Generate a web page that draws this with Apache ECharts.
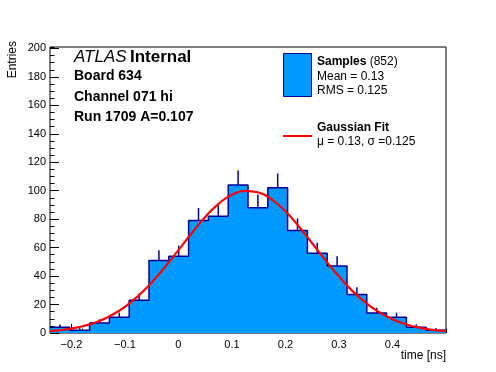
<!DOCTYPE html>
<html><head><meta charset="utf-8">
<script src="https://cdn.jsdelivr.net/npm/echarts@6/dist/echarts.min.js"></script>
<style>html,body{margin:0;padding:0;background:#fff}#c{width:496px;height:372px}</style>
</head><body><div id="c"></div>
<script>
// ---- data ----
const xMin = -0.24, xMax = 0.5;
const binWidth = 0.037;
const counts = [4, 2, 7, 11, 23, 51, 54, 79, 82, 104, 88, 102, 72, 56, 47, 27, 14, 11, 4, 2];
const fitX = [-0.24,-0.225,-0.2,-0.175,-0.15,-0.125,-0.1,-0.075,-0.05,-0.025,0,0.025,0.05,0.075,0.1,0.125,0.15,0.175,0.2,0.225,0.25,0.275,0.3,0.325,0.35,0.375,0.4,0.425,0.45,0.475,0.5];
const fitY = [1.3,1.8,3.1,5.1,8.1,12.5,18.4,26.1,35.5,46.4,58.2,70.3,81.5,90.8,97.2,99.9,98.7,93.7,85.5,74.9,63.1,51.0,39.7,29.6,21.3,14.7,9.7,6.2,3.8,2.2,1.3];
const yMax = 201;
const headerLines = ['Board 634', 'Channel 071 hi', 'Run 1709 A=0.107'];
const legendSamples = ['Mean = 0.13', 'RMS = 0.125'];
const legendFit = '\u03bc = 0.13, \u03c3 =0.125';

// ---- derived ----
const stepPts = [];
counts.forEach((c, i) => {
  stepPts.push([xMin + i * binWidth, c]);
  stepPts.push([xMin + (i + 1) * binWidth, c]);
});
const errData = counts.map((c, i) => [xMin + (i + 0.5) * binWidth, c, Math.sqrt(c)]);
const fitData = fitX.map((x, i) => [x, fitY[i]]);

const FONT = '"Liberation Sans", Arial, Helvetica, sans-serif';
const NAVY = '#000099', FILL = '#0099ff';

const chart = echarts.init(document.getElementById('c'), null, {renderer: 'canvas'});
const axCommon = {
  axisLine: {show: false, onZero: false}, splitLine: {show: false},
};
chart.setOption({
  animation: false,
  backgroundColor: '#fff',
  grid: {left: 50, right: 50, top: 47, bottom: 39, show: true, borderColor: '#000', borderWidth: 1, backgroundColor: 'transparent'},
  xAxis: [
    Object.assign({type: 'value', min: xMin, max: xMax, splitNumber: 7, position: 'bottom',
      axisTick: {inside: true, length: 9, lineStyle: {color: '#000', width: 1}},
      axisLabel: {showMinLabel: false, showMaxLabel: false, color: '#000', fontSize: 11, fontFamily: FONT, margin: 6,
        formatter: v => (v < 0 ? '\u2212' + Math.abs(v) : String(v))}}, axCommon),
    Object.assign({type: 'value', min: xMin, max: xMax, interval: 0.02, position: 'bottom',
      axisTick: {inside: true, length: 4.5, lineStyle: {color: '#000', width: 1}},
      axisLabel: {show: false}}, axCommon)
  ],
  yAxis: [
    Object.assign({type: 'value', min: 0, max: yMax, interval: 20, position: 'left',
      axisTick: {inside: true, length: 9, lineStyle: {color: '#000', width: 1}},
      axisLabel: {showMaxLabel: false, color: '#000', fontSize: 11, fontFamily: FONT, margin: 4}}, axCommon),
    Object.assign({type: 'value', min: 0, max: yMax, interval: 5, position: 'left',
      axisTick: {inside: true, length: 4.5, lineStyle: {color: '#000', width: 1}},
      axisLabel: {show: false}}, axCommon)
  ],
  series: [
    {
      type: 'custom', name: 'err', xAxisIndex: 0, yAxisIndex: 0, z: 1, silent: true,
      data: errData,
      renderItem: (params, api) => {
        const x = api.value(0), y = api.value(1), e = api.value(2);
        const p1 = api.coord([x, y - e]), p2 = api.coord([x, y + e]);
        return {type: 'line', shape: {x1: p1[0], y1: p1[1], x2: p2[0], y2: p2[1]},
          style: {stroke: NAVY, lineWidth: 1.5}};
      }
    },
    {
      type: 'line', name: 'Samples', xAxisIndex: 0, yAxisIndex: 0, z: 2, silent: true,
      data: stepPts, symbol: 'none',
      lineStyle: {color: NAVY, width: 1.5},
      areaStyle: {color: FILL, opacity: 1}
    },
    {
      type: 'line', name: 'Gaussian Fit', xAxisIndex: 0, yAxisIndex: 0, z: 3, silent: true,
      data: fitData, symbol: 'none', smooth: true,
      lineStyle: {color: '#ff0000', width: 2.2}
    }
  ],
  graphic: [
    {type: 'text', x: 13, y: 41, rotation: Math.PI / 2,
      style: {text: 'Entries', font: '12px ' + FONT, fill: '#000', textAlign: 'right', textVerticalAlign: 'middle'}},
    {type: 'text', x: 446, y: 356,
      style: {text: 'time [ns]', font: '12px ' + FONT, fill: '#000', textAlign: 'right', textVerticalAlign: 'middle'}},
    {type: 'text', x: 74, y: 57,
      style: {text: '{a|ATLAS} {b|Internal}', textVerticalAlign: 'middle',
        rich: {a: {fontStyle: 'italic', fontSize: 17, fontFamily: FONT, fill: '#000'},
               b: {fontWeight: 'bold', fontSize: 17, fontFamily: FONT, fill: '#000'}}}},
    ...headerLines.map((t, i) => ({type: 'text', x: 74, y: 76.5 + i * 20.5,
      style: {text: t, font: 'bold 14px ' + FONT, fill: '#000', textVerticalAlign: 'middle'}})),
    {type: 'rect', shape: {x: 283.5, y: 53.5, width: 28, height: 43},
      style: {fill: FILL, stroke: NAVY, lineWidth: 1}},
    {type: 'text', x: 317, y: 62,
      style: {text: '{a|Samples} {b|(852)}', textVerticalAlign: 'middle',
        rich: {a: {fontWeight: 'bold', fontSize: 12, fontFamily: FONT}, b: {fontSize: 12, fontFamily: FONT}}}},
    ...legendSamples.map((t, i) => ({type: 'text', x: 317, y: 76.5 + i * 14,
      style: {text: t, font: '12px ' + FONT, fill: '#000', textVerticalAlign: 'middle'}})),
    {type: 'line', shape: {x1: 283, y1: 136, x2: 312, y2: 136}, style: {stroke: '#ff0000', lineWidth: 2}},
    {type: 'text', x: 317, y: 128,
      style: {text: 'Gaussian Fit', font: 'bold 12px ' + FONT, fill: '#000', textVerticalAlign: 'middle'}},
    {type: 'text', x: 317, y: 142,
      style: {text: legendFit, font: '12px ' + FONT, fill: '#000', textVerticalAlign: 'middle'}}
  ]
});
</script></body></html>
